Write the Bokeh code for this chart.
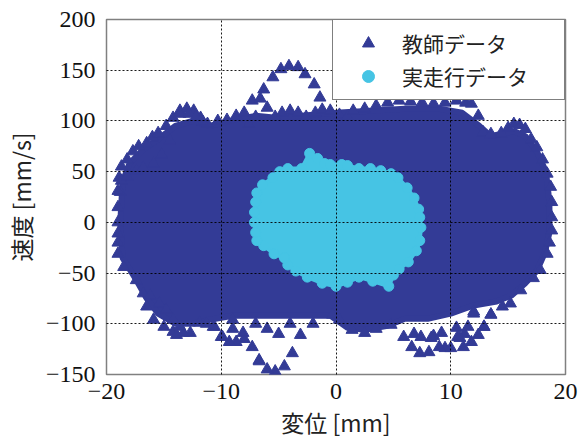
from bokeh.plotting import figure
from bokeh.models import FixedTicker, Legend, LegendItem
from bokeh.embed import file_html
from bokeh.resources import INLINE

# ---- data ----
x_ticks = [-20, -10, 0, 10, 20]
x_tick_labels = ["\u221220", "\u221210", "0", "10", "20"]
y_ticks = [-150, -100, -50, 0, 50, 100, 150, 200]
y_tick_labels = ["\u2212150", "\u2212100", "\u221250", "0", "50", "100", "150", "200"]

# 教師データ: dense core region (outline of the filled cloud)
teacher_core_x = [-18.6, -18.8, -18.6, -18.0, -16.8, -15.5, -14.0, -12.5, -11.0, -10.0, -8.5, -7.0,
                  -5.0, -3.0, 0.0, 3.0, 6.0, 9.0, 11.0, 12.5, 13.5, 15.5, 16.5, 17.5, 18.3, 18.6,
                  18.6, 18.2, 17.5, 16.5, 15.3, 14.0, 12.0, 10.0, 8.0, 6.0, 4.5, 2.5, 1.0, -0.5,
                  -3.0, -6.0, -9.0, -11.0, -12.5, -14.0, -15.5, -16.5, -17.5]
teacher_core_y = [-35, 0, 40, 58, 72, 82, 95, 100, 95, 98, 102, 105,
                  103, 105, 108, 110, 112, 112, 108, 95, 85, 90, 85, 70, 50, 20,
                  -10, -30, -48, -60, -72, -78, -82, -90, -95, -95, -102, -106, -104, -92,
                  -92, -92, -92, -96, -100, -100, -90, -75, -55]

# 教師データ: individual samples visible on the fringe of the cloud
teacher_x = [-18.9, -18.7, -18.2, -17.7, -17.2, -16.5, -16.0, -15.5, -14.8, -14.2, -13.6, -13.0,
             -12.4, -11.8, -11.2, -10.3, -9.5, -8.7, -8.0, -7.3, -6.6, -6.0, -5.3, -4.7, -4.0,
             -3.3, -2.6, -1.8, -1.2, -0.5, 0.3, 1.0,
             -6.3, -5.5, -4.8, -4.1, -3.3, -2.7, -1.9, -1.4,
             1.5, 2.5, 3.5, 4.5, 5.5, 6.5, 7.5, 8.5, 9.5, 10.5, 11.3, 11.8, 12.4, 12.8, 13.5,
             14.4, 15.0, 15.5, 16.0, 16.5, 17.0, 17.5, 18.0, 18.4, 18.7, 18.8, 18.8, 18.8,
             18.6, 18.4, 17.8, 17.2, 16.1, 15.2,
             14.5, 13.5, 12.9, 12.4, 11.8, 11.2, 10.8, 10.0, 9.5, 9.0, 8.1, 7.3, 6.6, 5.9,
             6.8, 8.5, 10.5, 12.0,
             4.8, 3.5, 2.5, 1.4, 0.3, -0.3,
             -3.1, -3.8, -4.5, -5.3, -6.0, -6.7, -7.3, -8.0, -8.7, -9.3, -10.0, -10.6, -11.3,
             -11.9, -12.7, -13.3, -14.2, -15.0, -15.9, -16.5, -16.8, -17.4, -18.5, -19.0,
             -19.0, -19.0, -18.8, -19.0, -19.0,
             -6.0, -5.0, -4.0, -2.0, -7.0, -9.0,
             7.4, 8.3, 9.2, 10.6, 11.5, 12.0, 12.9, 13.5, 11.1,
             -16.2, -15.4, -14.8, -14.2, -13.6, -13.9, -10.7, -9.9, -9.0, -8.1, -6.7,
             -19.0, -18.7, -18.2, -17.4, -16.8, -15.9, -15.2, -14.5, -13.6, -12.8, -12.2,
             -11.6, -7.6, -7.0]
teacher_y = [44, 55, 62, 70, 75, 78, 84, 88, 95, 103, 110, 112,
             110, 103, 97, 100, 101, 105, 108, 120, 122, 113, 104, 108, 110,
             108, 104, 108, 111, 110, 106, 104,
             131, 143, 151, 154, 153, 146, 136, 123,
             110, 112, 115, 118, 120, 119, 118, 117, 118, 120, 118, 117, 105, 89, 87,
             88, 93, 97, 96, 92, 82, 74, 62, 48, 35, 20, 5, -8,
             -20, -31, -47, -55, -67, -80,
             -83, -91, -103, -111, -118, -110, -114, -124, -124, -123, -128, -129, -123, -113,
             -110, -112, -104, -88,
             -101, -105, -109, -106, -96, -91,
             -111, -129, -142, -147, -145, -137, -123, -115, -118, -118, -113, -103, -100,
             -99, -109, -109, -108, -103, -96, -83, -70, -57, -44, -31,
             -11, 15, 30, 0, -20,
             -105, -110, -100, -100, -100, -105,
             -113, -114, -109, -113, -103, -90, -103, -91, -123,
             -72, -80, -86, -96, -103, -111, -103, -113, -96, -109, -136,
             31, 41, 45, 51, 54, 58, 67, 81, 107, 107, 104,
             99, 97, 104]

# 実走行データ: outline of the measured cloud
real_x = [-2.3, -1.6, -1.0, -0.5, 0.5, 1.0, 2.0, 3.0, 3.9, 4.8, 5.4, 6.2, 6.8, 7.2, 7.3, 7.4,
          7.3, 7.0, 6.3, 5.5, 5.0, 4.6, 3.2, 2.0, 1.0, 0.0, -1.2, -2.5, -3.5, -4.2, -4.5,
          -5.4, -6.3, -6.9, -7.0, -7.1, -7.1, -7.0, -6.9, -6.4, -5.5, -4.9, -4.2, -3.0]
real_y = [68, 63, 58, 57, 57, 56, 53, 53, 51, 48, 44, 34, 24, 13, 5, -5,
          -18, -28, -39, -46, -52, -63, -58, -54, -59, -63, -60, -54, -48, -42, -35,
          -31, -23, -18, -10, 0, 10, 20, 29, 37, 44, 50, 53, 53]

BLUE = "#333B96"
CYAN = "#46C4E4"

p = figure(width=582, height=441, x_range=(-20, 20), y_range=(-150, 200),
           output_backend="svg", toolbar_location=None,
           min_border_left=103, min_border_right=17, min_border_top=19, min_border_bottom=66)

p.patch(teacher_core_x, teacher_core_y, fill_color=BLUE, line_color=BLUE, line_width=6)
tri = p.scatter(teacher_x, teacher_y, marker="triangle", size=12,
                fill_color=BLUE, line_color=BLUE)
p.patch(real_x, real_y, fill_color=CYAN, line_color=CYAN, line_width=4)
circ = p.scatter(real_x, real_y, marker="circle", size=10, fill_color=CYAN, line_color=CYAN)

p.xaxis.ticker = FixedTicker(ticks=x_ticks)
p.yaxis.ticker = FixedTicker(ticks=y_ticks)
p.xaxis.major_label_overrides = dict(zip(x_ticks, x_tick_labels))
p.yaxis.major_label_overrides = dict(zip(y_ticks, y_tick_labels))

for ax in (p.xaxis, p.yaxis):
    ax.axis_line_color = None
    ax.major_tick_line_color = None
    ax.minor_tick_line_color = None
    ax.major_tick_out = 0
    ax.major_tick_in = 0
    ax.minor_tick_out = 0
    ax.minor_tick_in = 0
    ax.major_label_text_font = "Liberation Serif"
    ax.major_label_text_font_size = "24px"
    ax.major_label_text_color = "#111111"
    ax.axis_label_text_font = "Noto Sans CJK JP"
    ax.axis_label_text_font_size = "23px"
    ax.axis_label_text_font_style = "normal"
    ax.axis_label_text_color = "#222222"

p.xaxis.axis_label = "変位 [mm]"
p.yaxis.axis_label = "速度 [mm/s]"
p.xaxis.major_label_standoff = 9
p.yaxis.major_label_standoff = 11
p.xaxis.axis_label_standoff = 3
p.yaxis.axis_label_standoff = 5

for g in (p.xgrid, p.ygrid):
    g.grid_line_color = "black"
    g.grid_line_dash = "2 2"
    g.grid_line_width = 1
    g.grid_line_alpha = 0.9
    g.level = "guide"

p.outline_line_color = "#808080"
p.outline_line_width = 1.5

legend = Legend(items=[LegendItem(label="教師データ", renderers=[tri]),
                       LegendItem(label="実走行データ", renderers=[circ])],
                location="top_right", margin=0, padding=8, spacing=3,
                glyph_width=54, glyph_height=30, label_height=30,
                label_standoff=7, label_width=154,
                label_text_font="Noto Sans CJK JP", label_text_font_size="21px",
                label_text_color="#222222",
                border_line_color="black", border_line_width=1,
                background_fill_alpha=1.0)
p.add_layout(legend, "center")

open("out.html", "w").write(file_html(p, INLINE))
